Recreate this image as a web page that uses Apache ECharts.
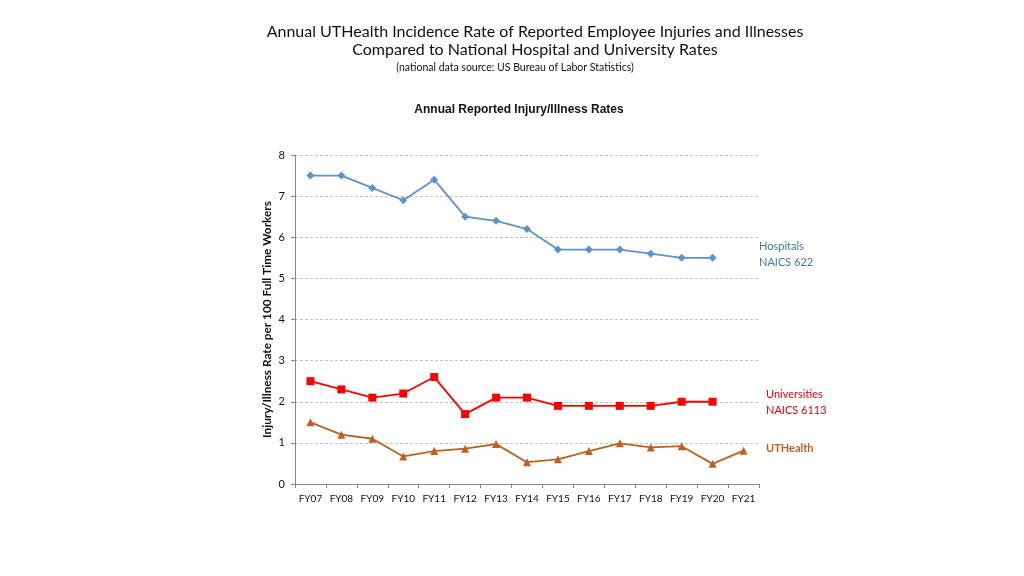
<!DOCTYPE html>
<html>
<head>
<meta charset="utf-8">
<script src="https://cdn.jsdelivr.net/npm/echarts@6/dist/echarts.min.js"></script>
<style>
  html, body { margin: 0; padding: 0; background: #fff; }
  #main { width: 1024px; height: 576px; }
</style>
</head>
<body>
<div id="main"></div>
<script>
// fiscal years on the x axis
const years = ['FY07', 'FY08', 'FY09', 'FY10', 'FY11', 'FY12', 'FY13', 'FY14',
  'FY15', 'FY16', 'FY17', 'FY18', 'FY19', 'FY20', 'FY21'];

// rates per 100 full time workers
const hospitals = [7.5, 7.5, 7.2, 6.9, 7.4, 6.5, 6.4, 6.2, 5.7, 5.7, 5.7, 5.6, 5.5, 5.5, null];
const universities = [2.5, 2.3, 2.1, 2.2, 2.6, 1.7, 2.1, 2.1, 1.9, 1.9, 1.9, 1.9, 2.0, 2.0, null];
const uthealth = [1.5, 1.2, 1.1, 0.67, 0.8, 0.86, 0.97, 0.53, 0.6, 0.8, 0.99, 0.89, 0.92, 0.49, 0.81];

const yTicks = [0, 1, 2, 3, 4, 5, 6, 7, 8];

const sans = 'Lato, "Open Sans", sans-serif';

const chart = echarts.init(document.getElementById('main'));

chart.setOption({
  backgroundColor: '#fff',
  animation: false,
  grid: { left: 295, right: 265, top: 155, bottom: 92, containLabel: false },
  xAxis: {
    type: 'category',
    data: years,
    boundaryGap: true,
    axisLine: { lineStyle: { color: '#888', width: 1 } },
    axisTick: { show: true, alignWithLabel: false, length: 4, lineStyle: { color: '#888' } },
    axisLabel: { fontFamily: sans, fontSize: 10, color: '#111', margin: 10 },
    splitLine: { show: false }
  },
  yAxis: {
    type: 'value',
    min: yTicks[0], max: yTicks[yTicks.length - 1], interval: 1,
    name: 'Injury/Illness Rate per 100 Full Time Workers',
    nameLocation: 'middle', nameGap: 22, nameRotate: 90,
    nameTextStyle: { fontFamily: sans, fontWeight: 'bold', fontSize: 11.8, color: '#111' },
    axisLine: { show: true, lineStyle: { color: '#888', width: 1 } },
    axisTick: { show: true, length: 4, lineStyle: { color: '#888' } },
    axisLabel: { fontFamily: sans, fontSize: 11, color: '#111', margin: 10 },
    splitLine: { show: true, lineStyle: { color: '#c4c4c4', type: [3, 2], width: 1 } }
  },
  series: [
    {
      name: 'Hospitals', type: 'line', data: hospitals,
      symbol: 'diamond', symbolSize: 8,
      itemStyle: { color: '#5B93CE' },
      lineStyle: { color: '#5B93CE', width: 1.8 }
    },
    {
      name: 'Universities', type: 'line', data: universities,
      symbol: 'rect', symbolSize: 8,
      itemStyle: { color: '#FF0000' },
      lineStyle: { color: '#FF0000', width: 1.8 }
    },
    {
      name: 'UTHealth', type: 'line', data: uthealth,
      symbol: 'triangle', symbolSize: 8,
      itemStyle: { color: '#C0601C' },
      lineStyle: { color: '#C0601C', width: 1.8 }
    }
  ],
  graphic: [
    {
      type: 'text', x: 535, y: 23,
      style: {
        text: 'Annual UTHealth Incidence Rate of Reported Employee Injuries and Illnesses\nCompared to National Hospital and University Rates',
        align: 'center', fill: '#111', fontFamily: sans, fontSize: 16, lineHeight: 18
      }
    },
    {
      type: 'text', x: 515, y: 62,
      style: {
        text: '(national data source: US Bureau of Labor Statistics)',
        align: 'center', fill: '#111', fontFamily: sans, fontSize: 10.5
      }
    },
    {
      type: 'text', x: 519, y: 104,
      style: {
        text: 'Annual Reported Injury/Illness Rates',
        align: 'center', fill: '#111', fontFamily: 'Liberation Sans, Arial, sans-serif', fontSize: 12, fontWeight: 'bold'
      }
    },
    {
      type: 'text', left: 759, top: 238,
      style: { text: 'Hospitals\nNAICS 622', fill: '#3F78B8', fontFamily: sans, fontSize: 11, lineHeight: 16 }
    },
    {
      type: 'text', left: 766, top: 386,
      style: { text: 'Universities\nNAICS 6113', fill: '#E8000B', fontFamily: sans, fontSize: 11, lineHeight: 16 }
    },
    {
      type: 'text', left: 766, top: 443,
      style: { text: 'UTHealth', fill: '#C0601C', fontFamily: sans, fontSize: 11, fontWeight: 'bold' }
    }
  ]
});
</script>
</body>
</html>
